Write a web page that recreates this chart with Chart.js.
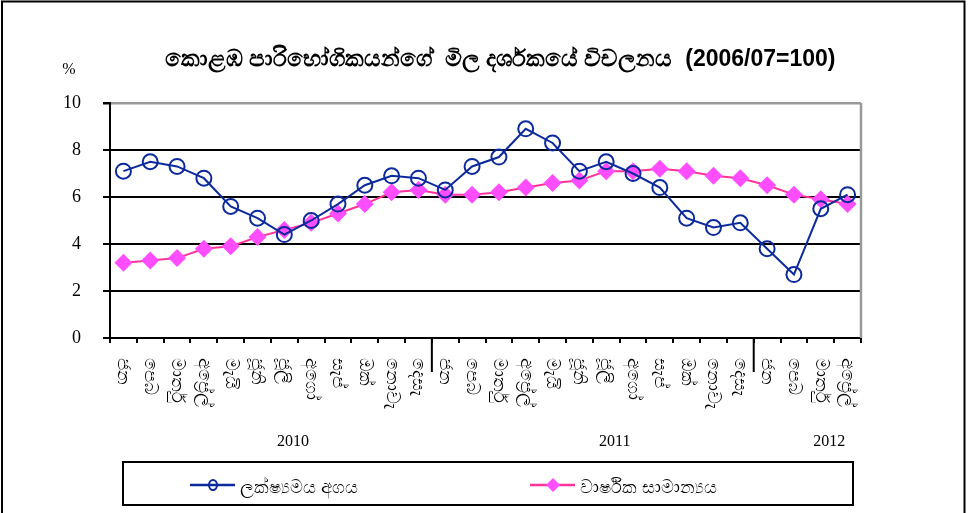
<!DOCTYPE html>
<html>
<head>
<meta charset="utf-8">
<script src="https://cdn.jsdelivr.net/npm/chart.js@4"></script>
<style>
  body { margin: 0; background: #fff; }
  canvas { display: block; }
</style>
</head>
<body>
<canvas id="chart" width="968" height="513"></canvas>
<script>
// Month names (Sinhala), Jan 2010 - Apr 2012
const monthNames = ["ජන", "පෙබ", "මාර්තු", "අප්‍රේල්", "මැයි", "ජූනි", "ජූලි", "අගෝ", "සැප්", "ඔක්", "නොවැ", "දෙසැ"];
const categories = [...monthNames, ...monthNames, ...monthNames.slice(0, 4)];
const years = ["2010", "2011", "2012"];
const yearStarts = [0, 12, 24];
const yTicks = [0, 2, 4, 6, 8, 10];

const titleText = "කොළඹ පාරිභෝගිකයන්ගේ  මිල දර්ශකයේ විචලනය  (2006/07=100)";
const seriesNames = ["ලක්ෂ්‍යමය අගය", "වාර්ෂික සාමාන්‍යය"];

// Point-to-point change
const pointValues = [7.1, 7.5, 7.3, 6.8, 5.6, 5.1, 4.4, 5.0, 5.7, 6.5, 6.9, 6.8,
                     6.3, 7.3, 7.7, 8.9, 8.3, 7.1, 7.5, 7.0, 6.4, 5.1, 4.7, 4.9,
                     3.8, 2.7, 5.5, 6.1];
// Annual average change
const annualAverage = [3.2, 3.3, 3.4, 3.8, 3.9, 4.3, 4.6, 4.9, 5.3, 5.7, 6.2, 6.3,
                       6.1, 6.1, 6.2, 6.4, 6.6, 6.7, 7.1, 7.1, 7.2, 7.1, 6.9, 6.8,
                       6.5, 6.1, 5.9, 5.7];

const BLUE = "#0d2a9c";
const PINK_LINE = "#ff3399";
const PINK_MARK = "#ff4dff";

// Extra drawing: frame, title, rotated month labels, year labels, legend
const extras = {
    id: "extras",
    afterDraw(chart) {
        const ctx = chart.ctx;
        const area = chart.chartArea;
        const x = chart.scales.x;
        ctx.save();

        // outer frame
        ctx.strokeStyle = "#000";
        ctx.lineWidth = 2;
        ctx.strokeRect(2, 1.5, 962.5, 530);

        // grey right border of plot
        ctx.strokeStyle = "#999";
        ctx.lineWidth = 2.5;
        ctx.beginPath();
        ctx.moveTo(area.right, area.top);
        ctx.lineTo(area.right, area.bottom);
        ctx.stroke();

        // title
        ctx.fillStyle = "#000";
        ctx.font = "bold 23px 'Liberation Sans', Arial, sans-serif";
        ctx.textAlign = "center";
        ctx.textBaseline = "middle";
        ctx.fillText(titleText, 500, 60);

        // % unit
        ctx.font = "16px 'Liberation Serif', serif";
        ctx.fillText("%", 69, 70);

        // month labels, rotated to read top to bottom
        ctx.font = "18px 'Noto Sans', sans-serif";
        categories.forEach((label, i) => {
            ctx.save();
            ctx.translate(x.getPixelForValue(i), area.bottom + 20);
            ctx.rotate(Math.PI / 2);
            ctx.textAlign = "left";
            ctx.textBaseline = "middle";
            ctx.fillText(label, 0, 0);
            ctx.restore();
        });

        // year separators
        ctx.strokeStyle = "#000";
        ctx.lineWidth = 2;
        yearStarts.slice(1).forEach(i => {
            const px = (x.getPixelForValue(i - 1) + x.getPixelForValue(i)) / 2;
            ctx.beginPath();
            ctx.moveTo(px, area.bottom);
            ctx.lineTo(px, area.bottom + 34);
            ctx.stroke();
        });

        // year labels
        ctx.font = "16px 'Liberation Serif', serif";
        ctx.textAlign = "center";
        years.forEach((yr, k) => {
            const first = yearStarts[k];
            const last = k + 1 < yearStarts.length ? yearStarts[k + 1] - 1 : categories.length - 1;
            const mid = (x.getPixelForValue(first) + x.getPixelForValue(last)) / 2;
            ctx.fillText(yr, mid + 22, area.bottom + 104);
        });

        // legend box
        ctx.strokeStyle = "#000";
        ctx.lineWidth = 2;
        ctx.strokeRect(123, 462, 730, 43);
        const items = [
            { x: 190, color: BLUE, mark: "circle", text: seriesNames[0] },
            { x: 530, color: PINK_LINE, mark: "diamond", text: seriesNames[1] }
        ];
        items.forEach(it => {
            const y = 485;
            ctx.strokeStyle = it.color;
            ctx.lineWidth = 2.5;
            ctx.beginPath();
            ctx.moveTo(it.x, y);
            ctx.lineTo(it.x + 45, y);
            ctx.stroke();
            if (it.mark === "circle") {
                ctx.strokeStyle = BLUE;
                ctx.lineWidth = 2;
                ctx.beginPath();
                ctx.ellipse(it.x + 23, y, 4, 5, 0, 0, Math.PI * 2);
                ctx.stroke();
            } else {
                ctx.fillStyle = PINK_MARK;
                ctx.beginPath();
                ctx.moveTo(it.x + 23, y - 7);
                ctx.lineTo(it.x + 30, y);
                ctx.lineTo(it.x + 23, y + 7);
                ctx.lineTo(it.x + 16, y);
                ctx.closePath();
                ctx.fill();
            }
            ctx.fillStyle = "#000";
            ctx.font = "18px 'Noto Sans', sans-serif";
            ctx.textAlign = "left";
            ctx.textBaseline = "middle";
            ctx.fillText(it.text, it.x + 50, y + 3);
        });

        ctx.restore();
    }
};

new Chart(document.getElementById("chart"), {
    type: "line",
    data: {
        labels: categories,
        datasets: [{
            label: seriesNames[0],
            data: pointValues,
            borderColor: BLUE,
            borderWidth: 2,
            pointStyle: "circle",
            pointRadius: 7.5,
            pointBorderWidth: 2,
            pointBorderColor: BLUE,
            pointBackgroundColor: "transparent",
            tension: 0
        }, {
            label: seriesNames[1],
            data: annualAverage,
            borderColor: PINK_LINE,
            borderWidth: 2,
            pointStyle: "rectRot",
            pointRadius: 9,
            pointBorderWidth: 0,
            pointBackgroundColor: PINK_MARK,
            tension: 0
        }]
    },
    options: {
        responsive: false,
        animation: false,
        layout: { padding: { left: 0, top: 103, right: 107, bottom: 0 } },
        plugins: {
            legend: { display: false },
            title: { display: false },
            tooltip: { enabled: false }
        },
        scales: {
            x: {
                offset: true,
                afterFit: scale => { scale.height = 175; },
                ticks: { display: false },
                grid: {
                    offset: true,
                    drawOnChartArea: false,
                    color: "#000",
                    lineWidth: 2,
                    tickLength: 5
                },
                border: { color: "#000", width: 2 }
            },
            y: {
                min: 0,
                max: 10,
                afterFit: scale => { scale.width = 110; },
                afterBuildTicks: scale => { scale.ticks = yTicks.map(v => ({ value: v })); },
                ticks: {
                    color: "#000",
                    padding: 22,
                    font: { family: "'Liberation Serif', serif", size: 18 }
                },
                grid: {
                    color: c => (c.tick && c.tick.value === 10 ? "#999" : "#000"),
                    tickColor: "#000",
                    lineWidth: c => (c.tick && c.tick.value === 10 ? 2.5 : 2),
                    tickLength: 7
                },
                border: { color: "#000", width: 2 }
            }
        }
    },
    plugins: [extras]
});
</script>
</body>
</html>
